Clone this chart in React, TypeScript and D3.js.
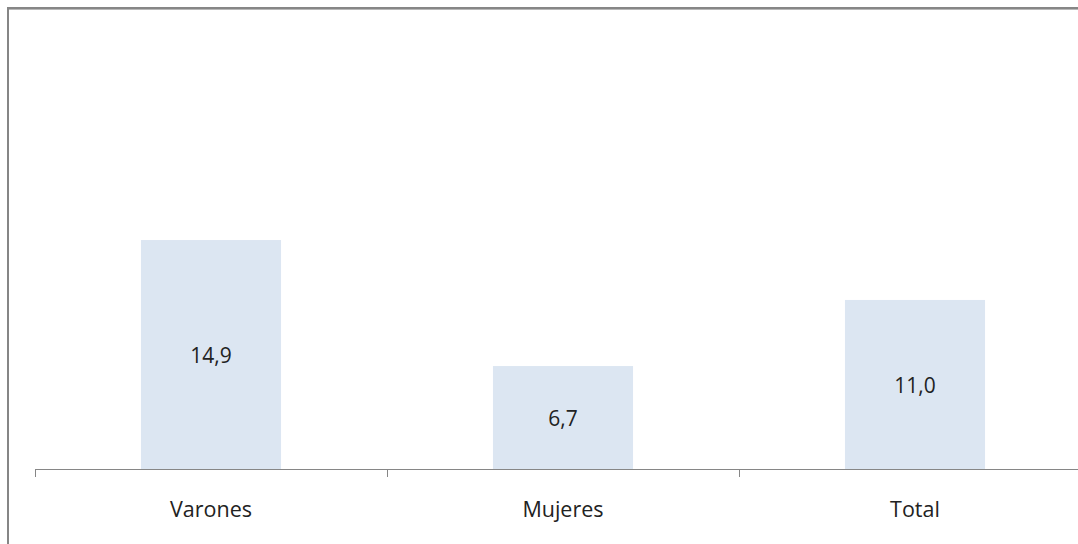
import React from "react";
import * as d3 from "d3";

const categories = ["Varones", "Mujeres", "Total"];
const values = [14.9, 6.7, 11.0];
const yMax = 30;

const W = 1078;
const H = 544;
const axisY = 469;
const plotTop = 8;
const plotLeft = 35;
const plotRight = 1091;

const fmt = (v: number) => v.toFixed(1).replace(".", ",");

export default function App() {
  const x = d3
    .scaleBand<string>()
    .domain(categories)
    .range([plotLeft, plotRight])
    .paddingInner(0.602)
    .paddingOuter(0.301);
  const y = d3.scaleLinear().domain([0, yMax]).range([axisY, plotTop]);
  const step = x.step();
  const tickXs = d3.range(categories.length + 1).map((i) => plotLeft + i * step);
  const font = "'Open Sans', 'Noto Sans', sans-serif";

  return (
    <svg
      width={W}
      height={H}
      style={{ position: "absolute", left: 0, top: 0, display: "block", background: "#fff" }}
    >
      {/* outer chart frame */}
      <rect x={8} y={8} width={W + 20} height={H + 20} fill="#fff" stroke="#868686" strokeWidth={2} />
      <line x1={9} x2={W} y1={9.5} y2={9.5} stroke="#b8b8b8" strokeWidth={1} />

      {categories.map((c, i) => {
        const v = values[i];
        const bx = x(c)!;
        const top = y(v);
        return (
          <g key={c}>
            <rect x={bx} y={top} width={x.bandwidth()} height={axisY - top} fill="#dce6f2" />
            <text
              x={bx + x.bandwidth() / 2}
              y={(top + axisY) / 2 + 8.5}
              textAnchor="middle"
              fontFamily={font}
              fontSize={21}
              fill="#222"
            >
              {fmt(v)}
            </text>
            <text
              x={bx + x.bandwidth() / 2}
              y={517}
              textAnchor="middle"
              fontFamily={font}
              fontSize={21.5}
              fill="#222"
            >
              {c}
            </text>
          </g>
        );
      })}

      {/* category axis */}
      <line x1={plotLeft} x2={plotRight} y1={axisY + 0.5} y2={axisY + 0.5} stroke="#868686" strokeWidth={1} />
      {tickXs.map((tx, i) => (
        <line key={i} x1={tx + 0.5} x2={tx + 0.5} y1={axisY} y2={axisY + 8} stroke="#868686" strokeWidth={1} />
      ))}
    </svg>
  );
}
